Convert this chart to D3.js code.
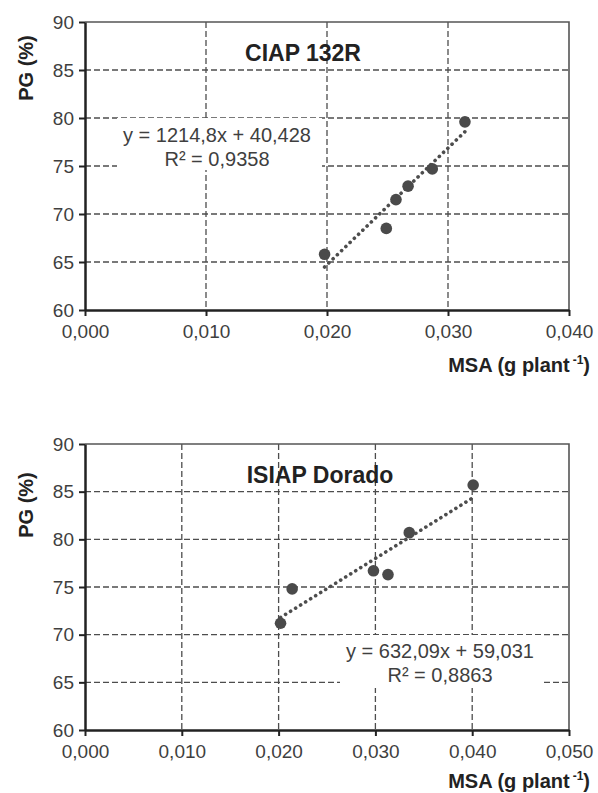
<!DOCTYPE html>
<meta charset="utf-8">

<!-- Load d3.js -->
<script src="https://d3js.org/d3.v7.min.js"></script>

<style>
  body { margin: 0; background: #fff; }
  text { font-family: "Liberation Sans", Arial, sans-serif; }
</style>

<!-- Create a div where the graph will take place -->
<div id="chart"></div>

<script>
// Data
var cultivars = ["CIAP 132R", "ISIAP Dorado"];

var msaCiap = [0.0198, 0.0249, 0.0257, 0.0267, 0.0287, 0.0314];
var pgCiap  = [65.8, 68.5, 71.5, 72.9, 74.7, 79.6];

var msaIsiap = [0.0202, 0.0214, 0.0298, 0.0313, 0.0335, 0.0401];
var pgIsiap  = [71.2, 74.8, 76.7, 76.3, 80.7, 85.7];

// linear trend fitted in the original (slope, intercept, R2)
var slopes = [1214.8, 632.09];
var intercepts = [40.428, 59.031];
var r2 = ["0,9358", "0,8863"];
var eqText = ["y = 1214,8x + 40,428", "y = 632,09x + 59,031"];

var yTicks = [60, 65, 70, 75, 80, 85, 90];
var xTicksTop = [0, 0.01, 0.02, 0.03, 0.04];
var xTicksBottom = [0, 0.01, 0.02, 0.03, 0.04, 0.05];

var fmt = function(d) { return d3.format(".3f")(d).replace(".", ","); };

var svg = d3.select("#chart").append("svg")
    .attr("width", 598)
    .attr("height", 793);

// one panel per cultivar
var panels = [
  { title: cultivars[0], xs: msaCiap, ys: pgCiap, xt: xTicksTop, top: 22, bottom: 310,
    titleX: 303, titleY: 61, eqX: 217, eqY: 142, box: [117, 118, 205, 52], labY: 372, pgY: 68 },
  { title: cultivars[1], xs: msaIsiap, ys: pgIsiap, xt: xTicksBottom, top: 444, bottom: 730,
    titleX: 320, titleY: 483, eqX: 440, eqY: 658, box: [340, 635, 202, 53], labY: 788, pgY: 505 }
];

panels.forEach(function(p, i) {
  var g = svg.append("g");

  var x = d3.scaleLinear()
    .domain([0, d3.max(p.xt)])
    .range([85, 569]);
  var y = d3.scaleLinear()
    .domain([60, 90])
    .range([p.bottom, p.top]);

  // Grid lines
  g.selectAll(".hgrid")
    .data(yTicks.slice(1, -1))
    .enter()
    .append("line")
      .attr("x1", x.range()[0]).attr("x2", x.range()[1])
      .attr("y1", function(d) { return y(d); })
      .attr("y2", function(d) { return y(d); })
      .attr("stroke", "#4d4d4d")
      .attr("stroke-width", 1.3)
      .attr("stroke-dasharray", "6,3");
  g.selectAll(".vgrid")
    .data(p.xt.slice(1, -1))
    .enter()
    .append("line")
      .attr("y1", p.top).attr("y2", p.bottom)
      .attr("x1", function(d) { return x(d); })
      .attr("x2", function(d) { return x(d); })
      .attr("stroke", "#4d4d4d")
      .attr("stroke-width", 1.3)
      .attr("stroke-dasharray", "6,3");

  // top and right frame
  g.append("path")
    .attr("d", "M" + x.range()[0] + "," + p.top + "H" + x.range()[1] + "V" + p.bottom)
    .attr("fill", "none")
    .attr("stroke", "#555")
    .attr("stroke-width", 1.6);

  // white box behind equation
  g.append("rect")
    .attr("x", p.box[0]).attr("y", p.box[1])
    .attr("width", p.box[2]).attr("height", p.box[3])
    .attr("fill", "#fff");

  // Axes
  var yAxis = g.append("g")
    .attr("transform", "translate(85,0)")
    .call(d3.axisLeft(y).tickValues(yTicks).tickSize(6).tickPadding(5).tickSizeOuter(0));
  var xAxis = g.append("g")
    .attr("transform", "translate(0," + p.bottom + ")")
    .call(d3.axisBottom(x).tickValues(p.xt).tickFormat(fmt).tickSize(6).tickPadding(9).tickSizeOuter(0));
  [xAxis, yAxis].forEach(function(a) {
    a.select(".domain").attr("stroke", "#222").attr("stroke-width", 2.5);
    a.selectAll(".tick line").attr("stroke", "#222").attr("stroke-width", 2);
    a.selectAll(".tick text")
      .attr("fill", "#3f3f3f")
      .style("font-size", "19px")
      .style("font-family", "'Liberation Sans', Arial, sans-serif");
  });

  // Trend line
  var ext = d3.extent(p.xs);
  g.append("line")
    .attr("x1", x(ext[0])).attr("y1", y(slopes[i] * ext[0] + intercepts[i]))
    .attr("x2", x(ext[1])).attr("y2", y(slopes[i] * ext[1] + intercepts[i]))
    .attr("stroke", "#4d4d4d")
    .attr("stroke-width", 3.6)
    .attr("stroke-linecap", "round")
    .attr("stroke-dasharray", "0.1,5.8");

  // Points
  g.selectAll(".pt")
    .data(p.xs)
    .enter()
    .append("circle")
      .attr("cx", function(d) { return x(d); })
      .attr("cy", function(d, j) { return y(p.ys[j]); })
      .attr("r", 5.8)
      .attr("fill", "#4a4a4a");

  // Title
  g.append("text")
    .attr("x", p.titleX).attr("y", p.titleY)
    .attr("text-anchor", "middle")
    .style("font-size", "23px")
    .style("font-weight", "bold")
    .attr("fill", "#222")
    .text(p.title);

  // Equation
  g.append("text")
    .attr("x", p.eqX).attr("y", p.eqY)
    .attr("text-anchor", "middle")
    .style("font-size", "20px")
    .attr("fill", "#3f3f3f")
    .text(eqText[i]);
  g.append("text")
    .attr("x", p.eqX).attr("y", p.eqY + 23.5)
    .attr("text-anchor", "middle")
    .style("font-size", "20px")
    .attr("fill", "#3f3f3f")
    .text("R² = " + r2[i]);

  // Axis labels
  g.append("text")
    .attr("transform", "translate(33," + p.pgY + ")rotate(-90)")
    .attr("text-anchor", "middle")
    .style("font-size", "20px")
    .style("font-weight", "bold")
    .attr("fill", "#222")
    .text("PG (%)");

  var lab = g.append("text")
    .attr("x", 590).attr("y", p.labY)
    .attr("text-anchor", "end")
    .style("font-size", "20px")
    .style("font-weight", "bold")
    .attr("fill", "#222");
  lab.append("tspan").text("MSA (g plant");
  lab.append("tspan").attr("dx", 3).attr("dy", -8).style("font-size", "12px").text("-1");
  lab.append("tspan").attr("dy", 8).text(")");
});
</script>
